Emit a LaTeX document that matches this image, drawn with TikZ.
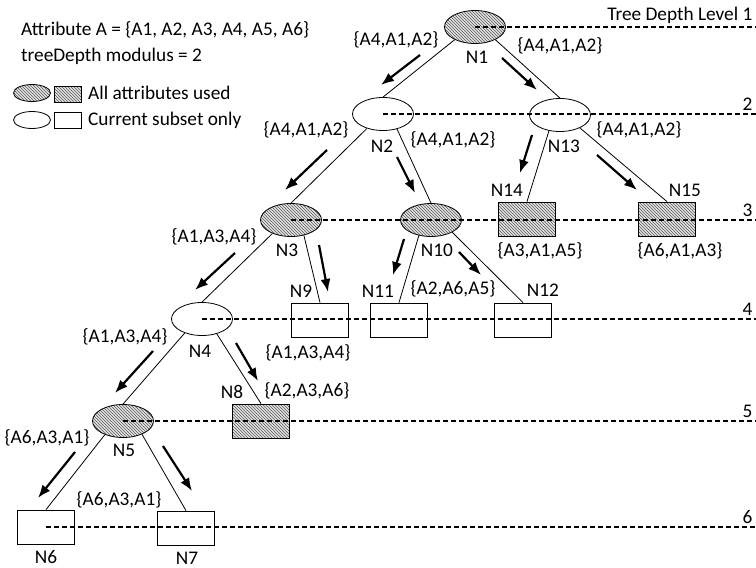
\documentclass[tikz,border=0pt]{standalone}
\usepackage{fontspec}
\setmainfont{Carlito}
\usepackage{tikz}
\usetikzlibrary{shapes.geometric,patterns,arrows.meta}
\tikzset{
	allused/.style={draw,line width=0.8pt,preaction={fill=gray!22},pattern=north west lines,pattern color=black!65},
	subset/.style={draw,line width=0.8pt,fill=white},
	oval/.style={ellipse,inner sep=0pt,minimum width=61pt,minimum height=33pt},
	leaf/.style={rectangle,inner sep=0pt,minimum width=57pt,minimum height=34pt},
	txt/.style={inner sep=0pt,font=\fontsize{19.3}{23}\selectfont},
	edge/.style={line width=0.8pt},
	level/.style={dashed,line width=1.2pt,dash pattern=on 5pt off 3pt},
	flow/.style={line width=2.2pt,-{Latex[length=13pt,width=10pt]}},
}
\begin{document}
\begin{tikzpicture}[x=1pt,y=-1pt]
			\useasboundingbox (0,0) rectangle (756,568);
			\coordinate (E) at (756,0);
			
			% legend
			\node[txt,anchor=west] (attr) at (21,30) {Attribute A = \{A1, A2, A3, A4, A5, A6\}};
			\node[txt,anchor=west] (modu) at (21,56) {treeDepth modulus = 2};
			\node[allused,ellipse,inner sep=0pt,minimum width=37pt,minimum height=17pt] (kA) at (32,93) {};
			\node[allused,rectangle,inner sep=0pt,minimum width=27pt,minimum height=16pt] (kB) at (68,94) {};
			\node[txt,anchor=west] (kAll) at (88,93) {All attributes used};
			\node[subset,ellipse,inner sep=0pt,minimum width=37pt,minimum height=17pt] (kC) at (32,120) {};
			\node[subset,rectangle,inner sep=0pt,minimum width=27pt,minimum height=16pt] (kD) at (68,120) {};
			\node[txt,anchor=west] (kCur) at (88,120) {Current subset only};
			
			% tree nodes
			\node[allused,oval] (N1) at (475,27) {};
			\node[subset,oval] (N2) at (383,114) {};
			\node[subset,oval] (N13) at (560,115) {};
			\node[allused,oval] (N3) at (291,220) {};
			\node[allused,oval] (N10) at (431,220) {};
			\node[allused,leaf] (N14) at (527,219) {};
			\node[allused,leaf] (N15) at (667,219) {};
			\node[subset,oval] (N4) at (202,319) {};
			\node[subset,leaf] (N9) at (320,320) {};
			\node[subset,leaf] (N11) at (399,320) {};
			\node[subset,leaf] (N12) at (523,320) {};
			\node[allused,oval] (N5) at (123,421) {};
			\node[allused,leaf] (N8) at (261,421) {};
			\node[subset,leaf] (N6) at (46,527) {};
			\node[subset,leaf] (N7) at (186,528) {};
			
			% branches
			\draw[edge] (N1.-148) -- (N2.north);
			\draw[edge] (N1.-32) -- (N13.north);
			\draw[edge] (N2.-138) -- (N3.north);
			\draw[edge] (N2.-47) -- (N10.north);
			\draw[edge] (N13.-125) -- (N14.north);
			\draw[edge] (N13.-33) -- (N15.north);
			\draw[edge] (N3.-144) -- (N4.north);
			\draw[edge] (N3.-50) -- (N9.north);
			\draw[edge] (N10.-128) -- (N11.north);
			\draw[edge] (N10.-30) -- (N12.north);
			\draw[edge] (N4.-141) -- (N5.north);
			\draw[edge] (N4.-45) -- (N8.north);
			\draw[edge] (N5.-143) -- (N6.north);
			\draw[edge] (N5.-35) -- (N7.north);
			
			% direction arrows next to the branches
			\foreach \xa/\ya/\xb/\yb in {420/55/381/85, 502/58/537/90, 327/150/285/190, 397/157/415/193,
				532/135/520/173, 597/155/637/190, 235/253/195/290, 319/245/328/292, 404/239/393/275,
				459/252/481/275, 153/351/115/393, 236/343/258/381, 75/452/38/498, 163/446/192/491}
				\draw[flow] (\xa,\ya) -- (\xb,\yb);
			
			% node names
			\node[txt] (tN1) at (477,57) {N1};
			\node[txt] (tN2) at (382,146) {N2};
			\node[txt] (tN13) at (564,146) {N13};
			\node[txt] (tN14) at (507,190) {N14};
			\node[txt] (tN15) at (685,190) {N15};
			\node[txt] (tN3) at (287,250) {N3};
			\node[txt] (tN10) at (437,250) {N10};
			\node[txt] (tN9) at (301,291) {N9};
			\node[txt] (tN11) at (378,291) {N11};
			\node[txt] (tN12) at (543,290) {N12};
			\node[txt] (tN4) at (200,351) {N4};
			\node[txt] (tN8) at (232,392) {N8};
			\node[txt] (tN5) at (124,450) {N5};
			\node[txt] (tN6) at (46,557) {N6};
			\node[txt] (tN7) at (187,558) {N7};
			
			% attribute subsets
			\node[txt] (s1a) at (396,40) {\{A4,A1,A2\}};
			\node[txt] (s1b) at (560,46) {\{A4,A1,A2\}};
			\node[txt] (s2a) at (306,130) {\{A4,A1,A2\}};
			\node[txt] (s2b) at (453,140) {\{A4,A1,A2\}};
			\node[txt] (s13) at (639,130) {\{A4,A1,A2\}};
			\node[txt] (s14) at (540,251) {\{A3,A1,A5\}};
			\node[txt] (s15) at (680,251) {\{A6,A1,A3\}};
			\node[txt] (s3) at (214,237) {\{A1,A3,A4\}};
			\node[txt] (s9) at (308,353) {\{A1,A3,A4\}};
			\node[txt] (s10) at (453,289) {\{A2,A6,A5\}};
			\node[txt] (s4) at (125,337) {\{A1,A3,A4\}};
			\node[txt] (s8) at (307,391) {\{A2,A3,A6\}};
			\node[txt] (s5a) at (47,438) {\{A6,A3,A1\}};
			\node[txt] (s5b) at (119,500) {\{A6,A3,A1\}};
			
			% tree depth levels
			\draw[level] (N1.center) -- (N1.center -| E) node[txt,above left,yshift=3pt,xshift=-3pt] (d1) {Tree Depth Level 1};
			\draw[level] (N2.center) -- (N2.center -| E) node[txt,above left,yshift=3pt,xshift=-3pt] (d2) {2};
			\draw[level] (N3.center) -- (N3.center -| E) node[txt,above left,yshift=3pt,xshift=-3pt] (d3) {3};
			\draw[level] (N4.center) -- (N4.center -| E) node[txt,above left,yshift=3pt,xshift=-3pt] (d4) {4};
			\draw[level] (N5.center) -- (N5.center -| E) node[txt,above left,yshift=3pt,xshift=-3pt] (d5) {5};
			\draw[level] (N6.center) -- (N6.center -| E) node[txt,above left,yshift=3pt,xshift=-3pt] (d6) {6};
			
\end{tikzpicture}
\end{document}
